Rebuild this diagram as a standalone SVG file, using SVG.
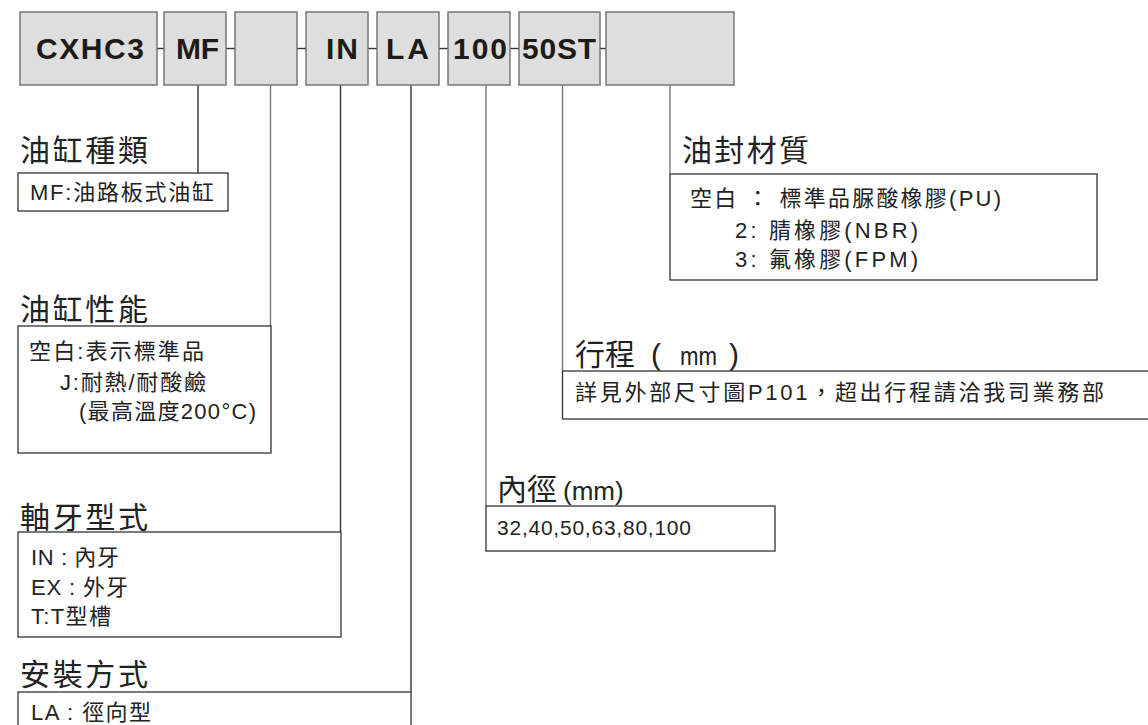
<svg xmlns="http://www.w3.org/2000/svg" width="1148" height="725" viewBox="0 0 1148 725">
<style>
text{font-family:"Liberation Sans","Noto Sans CJK TC",sans-serif;fill:#222}
.code rect{fill:#dedede;stroke:#777;stroke-width:1.5}
.code text{font-size:30px;font-weight:bold;fill:#1e1a18}
.lbl rect{fill:#fff;stroke:#333;stroke-width:1.3}
.t{font-size:30px}
.b{font-size:22px}
.n{font-size:21px}
.conn line{stroke-width:1.4}
.dk{stroke:#333}
.gy{stroke:#777}
</style>
<rect width="1148" height="725" fill="#fff"/>
<g id="connectors" class="conn">
<line class="dk" x1="157" y1="48.5" x2="164" y2="48.5"/>
<line class="dk" x1="226" y1="48.5" x2="235" y2="48.5"/>
<line class="dk" x1="297" y1="48.5" x2="306" y2="48.5"/>
<line class="dk" x1="368" y1="48.5" x2="377" y2="48.5"/>
<line class="dk" x1="439" y1="48.5" x2="448" y2="48.5"/>
<line class="dk" x1="510" y1="48.5" x2="519" y2="48.5"/>
<line class="dk" x1="600" y1="48.5" x2="606" y2="48.5"/>
<line class="dk" x1="198" y1="85" x2="198" y2="173"/>
<line class="gy" x1="270.5" y1="85" x2="270.5" y2="326"/>
<line class="dk" x1="340.5" y1="85" x2="340.5" y2="532"/>
<line class="dk" x1="411" y1="85" x2="411" y2="692"/>
<line class="gy" x1="486" y1="85" x2="486" y2="506"/>
<line class="gy" x1="562.5" y1="85" x2="562.5" y2="371"/>
<line class="gy" x1="670" y1="85" x2="670" y2="174"/>
</g>
<g id="code-cxhc3" class="code"><rect x="20" y="12" width="137" height="73"/><text x="36" y="59" textLength="108" lengthAdjust="spacing">CXHC3</text></g>
<g id="code-mf" class="code"><rect x="164" y="12" width="62" height="73"/><text x="176" y="59" textLength="43" lengthAdjust="spacing">MF</text></g>
<g id="code-blank1" class="code"><rect x="235" y="12" width="62" height="73"/></g>
<g id="code-in" class="code"><rect x="306" y="12" width="62" height="73"/><text x="326" y="59" textLength="32" lengthAdjust="spacing">IN</text></g>
<g id="code-la" class="code"><rect x="377" y="12" width="62" height="73"/><text x="386" y="59" textLength="43" lengthAdjust="spacing">LA</text></g>
<g id="code-100" class="code"><rect x="448" y="12" width="62" height="73"/><text x="453" y="59" textLength="54" lengthAdjust="spacing">100</text></g>
<g id="code-50st" class="code"><rect x="519" y="12" width="81" height="73"/><text x="522" y="59" textLength="74" lengthAdjust="spacing">50ST</text></g>
<g id="code-blank2" class="code"><rect x="606" y="12" width="128" height="73"/></g>

<g id="type" class="lbl">
<text class="t" x="20" y="161" textLength="128" lengthAdjust="spacing">油缸種類</text>
<rect x="18" y="173" width="210" height="38"/>
<text class="b" x="30" y="200" textLength="184" lengthAdjust="spacing">MF:油路板式油缸</text>
</g>
<g id="performance" class="lbl">
<text class="t" x="20" y="320" textLength="128" lengthAdjust="spacing">油缸性能</text>
<rect x="18" y="326" width="253" height="127"/>
<text class="b" x="29" y="359" textLength="175" lengthAdjust="spacing">空白:表示標準品</text>
<text class="b" x="60" y="390" textLength="146" lengthAdjust="spacing">J:耐熱/耐酸鹼</text>
<text class="b" x="79" y="419" textLength="177" lengthAdjust="spacing">(最高溫度200°C)</text>
</g>
<g id="thread" class="lbl">
<text class="t" x="20" y="528" textLength="128" lengthAdjust="spacing">軸牙型式</text>
<rect x="18" y="532" width="323" height="105"/>
<text class="b" x="31" y="565" textLength="88" lengthAdjust="spacing">IN : 內牙</text>
<text class="b" x="31" y="595" textLength="97" lengthAdjust="spacing">EX : 外牙</text>
<text class="b" x="31" y="624" textLength="80" lengthAdjust="spacing">T:T型槽</text>
</g>
<g id="mounting" class="lbl">
<text class="t" x="20" y="685" textLength="128" lengthAdjust="spacing">安裝方式</text>
<rect x="18" y="692" width="393" height="50"/>
<text class="b" x="31" y="720" textLength="120" lengthAdjust="spacing">LA : 徑向型</text>
</g>
<g id="bore" class="lbl">
<text class="t" x="497" y="500"><tspan>內徑</tspan><tspan x="563" font-size="26">(mm)</tspan></text>
<rect x="486" y="506" width="289" height="45"/>
<text class="n" x="497" y="535" textLength="194" lengthAdjust="spacing">32,40,50,63,80,100</text>
</g>
<g id="stroke" class="lbl">
<text class="t" x="575" y="365"><tspan>行程</tspan><tspan x="651">(</tspan><tspan x="680" font-size="25" textLength="37" lengthAdjust="spacingAndGlyphs">mm</tspan><tspan x="729">)</tspan></text>
<rect x="562.5" y="371" width="600" height="48"/>
<text class="b" x="575" y="400" textLength="529" lengthAdjust="spacing">詳見外部尺寸圖P101，超出行程請洽我司業務部</text>
</g>
<g id="seal" class="lbl">
<text class="t" x="682" y="161" textLength="127" lengthAdjust="spacing">油封材質</text>
<rect x="670" y="174" width="427" height="106"/>
<text class="b" x="690" y="206" textLength="311" lengthAdjust="spacing">空白 ： 標準品脲酸橡膠(PU)</text>
<text class="b" x="735" y="238" textLength="183" lengthAdjust="spacing">2: 腈橡膠(NBR)</text>
<text class="b" x="735" y="267" textLength="183" lengthAdjust="spacing">3: 氟橡膠(FPM)</text>
</g>
</svg>
